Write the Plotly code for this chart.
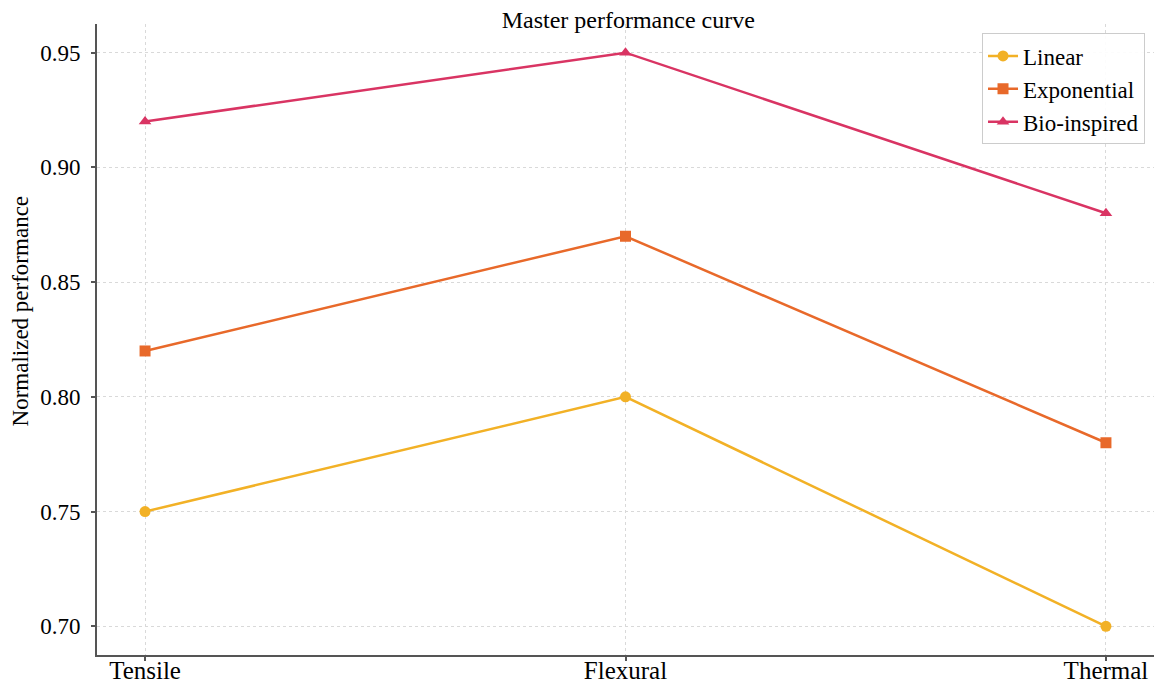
import plotly.graph_objects as go

categories = ["Tensile", "Flexural", "Thermal"]
linear = [0.75, 0.80, 0.70]
exponential = [0.82, 0.87, 0.78]
bio_inspired = [0.92, 0.95, 0.88]

series = [
    ("Linear", linear, "#F2B126", "circle"),
    ("Exponential", exponential, "#E8692A", "square"),
    ("Bio-inspired", bio_inspired, "#D93463", "triangle-up"),
]

fig = go.Figure()
for name, vals, color, sym in series:
    fig.add_trace(go.Scatter(
        x=[0, 1, 2], y=vals, name=name, mode="lines+markers",
        line=dict(color=color, width=2.5),
        marker=dict(color=color, symbol=sym, size=11),
    ))

font_family = "Liberation Serif, Times New Roman, serif"
fig.update_layout(
    width=1157, height=684,
    margin=dict(l=97, r=3, t=24, b=29, autoexpand=False),
    paper_bgcolor="white", plot_bgcolor="white",
    font=dict(family=font_family, color="black"),
    title=dict(text="Master performance curve", x=0.543, xanchor="center",
               y=0.971, yanchor="middle", font=dict(size=24, family=font_family)),
    showlegend=True,
    legend=dict(x=0.9915, y=0.985, xanchor="right", yanchor="top",
                bordercolor="#cccccc", borderwidth=1, bgcolor="rgba(255,255,255,0.9)",
                font=dict(size=23, family=font_family), tracegroupgap=0),
)
fig.add_annotation(
    text="Normalized performance", textangle=-90,
    xref="paper", yref="paper", x=-0.0725, y=0.545, xanchor="center", yanchor="middle",
    showarrow=False, font=dict(size=23, family=font_family),
)
fig.update_xaxes(
    range=[-0.1, 2.1], tickmode="array", tickvals=[0, 1, 2], ticktext=categories,
    showline=True, linecolor="#555555", linewidth=2,
    ticks="outside", ticklen=4, tickcolor="#555555", tickwidth=1.5,
    showgrid=True, gridcolor="#d9d9d9", griddash="dot", gridwidth=1,
    zeroline=False, tickfont=dict(size=25, family=font_family),
    automargin=False, ticklabelstandoff=-12,
)
fig.update_yaxes(
    range=[0.6875, 0.9625], tickvals=[0.70, 0.75, 0.80, 0.85, 0.90, 0.95],
    tickformat=".2f",
    showline=True, linecolor="#555555", linewidth=2,
    ticks="outside", ticklen=4, tickcolor="#555555", tickwidth=1.5,
    showgrid=True, gridcolor="#d9d9d9", griddash="dot", gridwidth=1,
    zeroline=False, tickfont=dict(size=23, family=font_family),
    automargin=False, ticklabelstandoff=6,
)

fig.write_html("out.html", config={"displayModeBar": False},
               post_script="document.body.style.margin='0';document.body.style.overflow='hidden';")
